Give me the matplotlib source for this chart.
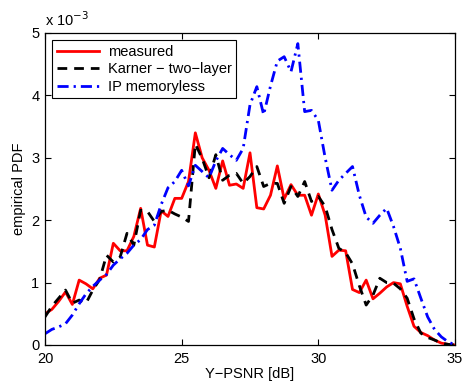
import matplotlib
matplotlib.use("Agg")
import matplotlib.pyplot as plt
import numpy as np

plt.rcParams['font.family'] = ['Liberation Sans', 'DejaVu Sans']

# Y-PSNR bins [dB]
psnr = [20.0, 20.25, 20.5, 20.75, 21.0, 21.25, 21.5, 21.75, 22.0, 22.25,
        22.5, 22.75, 23.0, 23.25, 23.5, 23.75, 24.0, 24.25, 24.5, 24.75,
        25.0, 25.25, 25.5, 25.75, 26.0, 26.25, 26.5, 26.75, 27.0, 27.25,
        27.5, 27.75, 28.0, 28.25, 28.5, 28.75, 29.0, 29.25, 29.5, 29.75,
        30.0, 30.25, 30.5, 30.75, 31.0, 31.25, 31.5, 31.75, 32.0, 32.25,
        32.5, 32.75, 33.0, 33.25, 33.5, 33.75, 34.0, 34.25, 34.5, 34.75, 35.0]

# empirical PDF values in units of 1e-3
measured = [0.50, 0.57, 0.70, 0.85, 0.65, 1.04, 0.98, 0.90, 1.07, 1.12,
            1.63, 1.51, 1.51, 1.74, 2.19, 1.60, 1.57, 2.15, 2.06, 2.35,
            2.35, 2.62, 3.40, 3.00, 2.80, 2.51, 2.95, 2.56, 2.58, 2.51,
            3.08, 2.20, 2.18, 2.40, 2.87, 2.34, 2.57, 2.40, 2.40, 2.08,
            2.42, 2.08, 1.42, 1.52, 1.51, 0.89, 0.84, 1.04, 0.74, 0.83,
            0.93, 1.00, 0.98, 0.62, 0.30, 0.20, 0.15, 0.08, 0.03, 0.01, 0.00]

karner = [0.45, 0.62, 0.75, 0.88, 0.67, 0.72, 0.67, 0.88, 1.05, 1.44,
          1.33, 1.41, 1.79, 1.60, 2.16, 2.14, 1.98, 2.14, 2.16, 2.10,
          2.05, 1.98, 3.22, 2.99, 2.68, 3.05, 2.64, 2.72, 2.75, 2.59,
          2.70, 2.86, 2.54, 2.59, 2.59, 2.27, 2.54, 2.38, 2.62, 2.30,
          2.38, 2.22, 1.85, 1.55, 1.48, 1.30, 0.95, 0.64, 0.80, 1.07,
          1.00, 0.99, 0.90, 0.75, 0.42, 0.19, 0.12, 0.08, 0.03, 0.01, 0.00]

ip_memoryless = [0.18, 0.25, 0.29, 0.34, 0.48, 0.66, 0.82, 0.94, 1.04, 1.13,
                 1.28, 1.38, 1.47, 1.60, 1.69, 1.85, 1.92, 2.25, 2.52, 2.62,
                 2.80, 2.55, 2.88, 2.78, 2.68, 2.95, 3.15, 3.05, 2.96, 3.15,
                 3.85, 4.14, 3.69, 4.15, 4.55, 4.62, 4.38, 4.83, 3.74, 3.76,
                 3.60, 3.00, 2.48, 2.64, 2.75, 2.86, 2.40, 2.05, 1.95, 2.08,
                 2.19, 1.90, 1.55, 1.02, 1.06, 0.75, 0.45, 0.25, 0.13, 0.05, 0.00]

x_ticks = [20, 25, 30, 35]
y_ticks = [0, 1, 2, 3, 4, 5]

scale = 1e-3
fig = plt.figure(figsize=(4.63, 3.86), dpi=100)
ax = fig.add_axes([45 / 463, 1 - 345 / 386, 410 / 463, 312 / 386])

ax.plot(psnr, np.array(measured) * scale, color='#ff0000', lw=2.0,
        label='measured')
ax.plot(psnr, np.array(karner) * scale, color='black', lw=2.0,
        ls=(0, (3.5, 2.5)), label='Karner \u2212 two\u2212layer')
ax.plot(psnr, np.array(ip_memoryless) * scale, color='#0000ff', lw=2.0,
        ls=(0, (4, 1.8, 0.8, 1.8)), label='IP memoryless')

ax.set_xlim(20, 35)
ax.set_ylim(0, 5 * scale)
ax.set_xticks(x_ticks)
ax.set_xticklabels([str(v) for v in x_ticks])
ax.set_yticks([v * scale for v in y_ticks])
ax.set_yticklabels([str(v) for v in y_ticks])
ax.tick_params(direction='in', top=True, right=True, length=4, width=0.8,
               labelsize=10.5)
ax.tick_params(axis='x', pad=5)
ax.tick_params(axis='y', pad=4)
for s in ax.spines.values():
    s.set_linewidth(0.9)

ax.set_xlabel('Y\u2212PSNR [dB]', fontsize=10.5, labelpad=1)
ax.set_ylabel('empirical PDF', fontsize=10.5, labelpad=4)
fig.text(45 / 463, 1 - 20 / 386, 'x 10$^{-3}$', fontsize=10.5,
         ha='left', va='center')

leg = ax.legend(loc='upper left', fontsize=10.5, frameon=True, fancybox=False,
                edgecolor='black', framealpha=1, handlelength=2.9,
                borderpad=0.3, labelspacing=0.25, handletextpad=0.6,
                borderaxespad=0.5)
leg.get_frame().set_linewidth(0.8)

fig.savefig('out.png', dpi=100)
